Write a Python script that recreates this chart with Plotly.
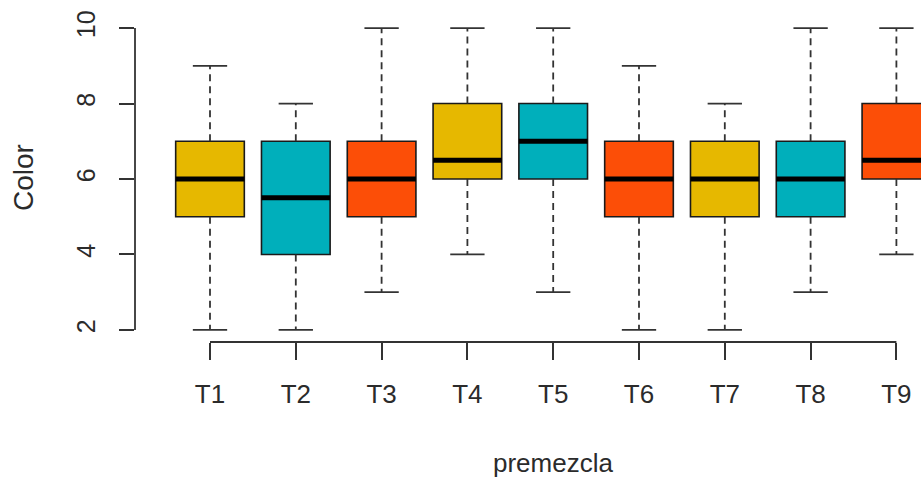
import plotly.graph_objects as go

categories = ["T1", "T2", "T3", "T4", "T5", "T6", "T7", "T8", "T9"]
lower = [2, 2, 3, 4, 3, 2, 2, 3, 4]
q1 = [5, 4, 5, 6, 6, 5, 5, 5, 6]
median = [6, 5.5, 6, 6.5, 7, 6, 6, 6, 6.5]
q3 = [7, 7, 7, 8, 8, 7, 7, 7, 8]
upper = [9, 8, 10, 10, 10, 9, 8, 10, 10]
colors = ["#E6B800", "#00AFBB", "#FC4E07"] * 3
y_ticks = [2, 4, 6, 8, 10]

pos = list(range(1, len(categories) + 1))
box_w = 0.8
cap_w = 0.4
ink = "#333333"
font_family = "Liberation Sans, Arial, sans-serif"

fig = go.Figure()

fig.add_trace(go.Bar(
    x=pos, y=[b - a for a, b in zip(q1, q3)], base=q1, width=box_w,
    marker=dict(color=colors, line=dict(color="#1a1a1a", width=1.6)),
    hoverinfo="skip", showlegend=False,
))

# whiskers (dashed)
wx, wy = [], []
for p, lo, a, b, hi in zip(pos, lower, q1, q3, upper):
    wx += [p, p, None, p, p, None]
    wy += [a, lo, None, b, hi, None]
fig.add_trace(go.Scatter(x=wx, y=wy, mode="lines",
                         line=dict(color=ink, width=1.8, dash="7px,5px"),
                         hoverinfo="skip", showlegend=False))

# caps
cx, cy = [], []
for p, lo, hi in zip(pos, lower, upper):
    cx += [p - cap_w / 2, p + cap_w / 2, None, p - cap_w / 2, p + cap_w / 2, None]
    cy += [lo, lo, None, hi, hi, None]
fig.add_trace(go.Scatter(x=cx, y=cy, mode="lines",
                         line=dict(color=ink, width=1.8),
                         hoverinfo="skip", showlegend=False))

# medians
mx, my = [], []
for p, m in zip(pos, median):
    mx += [p - box_w / 2, p + box_w / 2, None]
    my += [m, m, None]
fig.add_trace(go.Scatter(x=mx, y=my, mode="lines",
                         line=dict(color="black", width=5),
                         hoverinfo="skip", showlegend=False))

# axis lines like base R (first to last tick)
fig.add_shape(type="line", xref="x", yref="paper", x0=pos[0], x1=pos[-1], y0=0, y1=0,
              line=dict(color=ink, width=1.8))
fig.add_shape(type="line", xref="paper", yref="y", x0=0, x1=0, y0=y_ticks[0], y1=y_ticks[-1],
              line=dict(color=ink, width=1.8))

px_per_unit = 85.8
x0 = 1 - (210 - 135) / px_per_unit
x1 = x0 + 786 / px_per_unit

fig.update_layout(
    width=921, height=485,
    margin=dict(l=135, r=0, t=16, b=143),
    paper_bgcolor="white", plot_bgcolor="white",
    font=dict(family=font_family, size=26, color="#2b2b2b"),
    barmode="overlay",
    xaxis=dict(range=[x0, x1], tickmode="array", tickvals=pos, ticktext=categories,
               showgrid=False, zeroline=False, showline=False,
               ticks="outside", ticklen=17, tickwidth=1.8, tickcolor=ink,
               ticklabelstandoff=12, tickfont=dict(size=26)),
    yaxis=dict(range=[1.68, 10.32], tickmode="array", tickvals=y_ticks,
               showgrid=False, zeroline=False, showline=False,
               ticks="outside", ticklen=15, tickwidth=1.8, tickcolor=ink,
               tickangle=-90, ticklabelstandoff=14, tickfont=dict(size=25)),
    annotations=[
        dict(text="premezcla", xref="paper", yref="paper",
             x=(553 - 135) / 786, y=(342 - 463) / 326, showarrow=False,
             xanchor="center", yanchor="middle", font=dict(size=26)),
        dict(text="Color", xref="paper", yref="paper",
             x=(23 - 135) / 786, y=(342 - 178) / 326, showarrow=False,
             textangle=-90, xanchor="center", yanchor="middle", font=dict(size=28)),
    ],
)

fig.write_html("out.html")
